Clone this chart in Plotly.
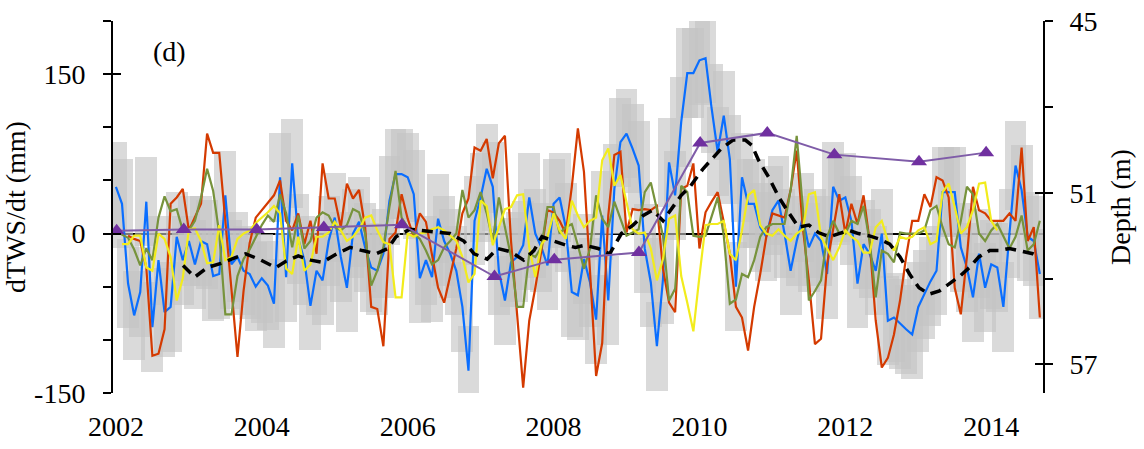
import numpy as np
import plotly.graph_objects as go

# ---------------- data ----------------
START_YEAR = 2002.0
# monthly dTWS/dt (mm) series; first month index given separately
blue_start = 0
blue = [44, 28, -47, -77, -55, 30, -88, -25, -74, -69, -3, -25, -7, -29, -7, -10, -40, -38, 36, -29, -22, -35, -38, -50, -42, -49,
        -66, 53, -41, 66, -5, -25, -68, -35, -44, -7, 15, -22, -51, 0, 11, -13, -32, -35, -19, 31, 56, 56, 53, 37, -42,
        -25, -41, 14, -7, -19, -35, -69, -129, 12, 34, 61, 44, -35, -63, -27, -22, -11, 34, 0, -13, -30, 28, 34, 6, -55,
        -58, -24, -46, -81, 17, -63, 42, 86, 94, 80, 64, -14, -46, -106, -43, 67, 36, 105, 151, 151, 163, 165, 118, 77, 111, 70,
        -50, 53, 28, 28, 6, -3, 22, 31, 0, -35, -7, 15, -13, 0, -7, -38, 44, 31, 34, 12, -47, -10, -19, -35, 0,
        -82, -79, -85, -90, -95, -69, -57, -45, -35, 39, 39, 39, -13, -32, -60, -19, -51, -29, -32, -69, 0, 64, 41, -3, -7, -38]

red_start = 2
red = [-2, -5, -7, -32, -115, -113, -90, 28, 34, 42, 3, 15, 28, 94, 76, 76, 10, -50, -116, -54, -9, 15, 22, 28,
       36, 50, 12, 3, 19, -10, 12, -19, 66, 33, 33, 6, 47, 33, 41, 6, -69, -71, -106, -5, 1, 37, 14, -3, 19,
       11, -19, -51, -65, -41, -14, 19, 33, 81, 78, 89, 52, 85, 92, -7, -79, -145, -82, -51, -16, 22, 20, 12, 0, 44,
       99, 58, -36, -134, -103, 17, 74, 77, 1, 23, 22, 23, 22, 26, -33, -65, -74, 42, 45, 66, -14, 20, 30, 39, 11,
       -19, -69, -79, -110, -69, -38, -3, 19, 17, 15, 41, 78, 6, -44, -104, -99, -29, 6, 37, 0, 28, 9, 36, -7, -82, -126,
       -117, -95, -63, -22, 12, 12, 37, 25, 53, 50, 34, -51, -76, -22, 44, 22, 19, 12, 12, 12, 19, 12, 81, -7, 6, -79]

green_start = 0
green = [4, -1, -4, -15, -30, -14, -25, 15, 35, 21, 23, 3, 3, 12, 34, 61, 40, 0, -76, -76, -40, -24, -15, -4, 8, 17,
         11, 37, 19, -13, 17, -14, -7, 15, 20, 17, 6, 3, 8, 23, 20, 0, -49, -35, -13, 25, 59, 15, 6, 0, -5,
         -16, -29, -25, -13, -7, 0, 41, 15, 22, 39, 19, -7, 34, 6, -22, -69, -69, -19, -22, -13, 25, 25, 0, 6, 9,
         -11, -33, -14, 36, 14, 6, 30, 14, -2, 1, 4, 39, 48, 23, -2, -63, -52, 45, 39, -2, -3, -2, 17, 34, -2,
         -66, -62, -38, -41, -25, -3, 6, 9, 9, 9, 41, 92, 25, -63, -54, -44, -3, 12, 0, 0, 12, 9, 26, -7, -60, -16,
         -19, -27, 1, 0, 0, 0, 3, 22, 26, 6, -10, -13, 12, 44, 37, 0, -7, 3, 9, -3, -14, -3, 17, -16, -10, 12]

yellow_start = 1
yellow = [-10, -10, -2, -2, -32, -35, 0, -5, -22, -63, -42, 4, 5, -7, -28, -27, 8, -25, -22, -5, 0, 3, 10, 15, 20,
          26, 19, -33, -38, -3, -35, -29, -3, -3, 1, 11, 3, -7, -3, 4, 15, 17, 3, -8, -10, -60, -60, 0, -3, 0,
          1, 4, 6, 3, -2, -7, -22, -46, -38, 31, 26, -11, 6, 23, 25, 36, 37, -13, -41, -10, -3, 19, 3, -5, 31,
          17, 6, 12, 15, 69, 80, 45, 55, 30, 4, 0, 1, -14, -44, -24, 14, 17, -40, -65, -92, -40, 8, 9, 9, 12, -19,
          -25, 3, 36, 41, 8, 0, -2, 4, -2, -7, 0, 4, 37, 39, -3, -14, -25, -13, 3, -3, -7, -18, -18, 6, 12,
          -7, -16, -3, -5, -3, 3, 6, -10, -7, 39, 47, 25, 0, 6, 22, 47, 48, 12, 3]

# uncertainty half-width of the grey bars (mm)
grey_unc = 42

# dashed black smoothed series
dash_year = [2002.92, 2003.08, 2003.25, 2003.44, 2003.62, 2003.78, 2003.99, 2004.19, 2004.33, 2004.50, 2004.67, 2004.83,
             2005.03, 2005.21, 2005.38, 2005.57, 2005.73, 2005.84, 2006.03, 2006.18, 2006.40, 2006.58, 2006.77, 2006.91,
             2007.09, 2007.23, 2007.41, 2007.59, 2007.73, 2007.84, 2008.00, 2008.17, 2008.30, 2008.43, 2008.61, 2008.77,
             2008.93, 2009.09, 2009.23, 2009.36, 2009.50, 2009.61, 2009.75, 2009.88, 2010.05, 2010.17, 2010.30, 2010.46,
             2010.63, 2010.72, 2010.81, 2010.95, 2011.09, 2011.23, 2011.36, 2011.50, 2011.63, 2011.78, 2011.91, 2012.05,
             2012.18, 2012.32, 2012.46, 2012.61, 2012.75, 2012.88, 2013.01, 2013.15, 2013.29, 2013.43, 2013.57, 2013.70,
             2013.83, 2013.98, 2014.11, 2014.25, 2014.38, 2014.57, 2014.63]
dash_val = [-30, -41, -32, -28, -23, -19, -25, -32, -26, -21, -25, -27,
            -19, -13, -16, -19, -14, -3, 4, 3, 1, 0, -7, -19,
            -24, -14, -17, -25, -16, -3, -7, -11, -13, -11, -14, -19,
            0, 8, 17, 22, 12, 23, 36, 45, 61, 70, 80, 88,
            88, 83, 69, 53, 34, 19, 6, 8, 1, -3, 0, 3,
            0, -2, -5, -10, -22, -38, -51, -57, -54, -47, -40, -32,
            -22, -16, -16, -14, -16, -19, -21]

# annual groundwater depth (m), right axis
depth_year = [2002.01, 2002.93, 2003.93, 2004.85, 2005.92, 2007.19, 2008.01, 2009.17, 2010.01, 2010.93, 2011.85, 2013.01, 2013.93]
depth_m = [52.33, 52.29, 52.29, 52.22, 52.12, 53.93, 53.34, 53.09, 49.26, 48.91, 49.67, 49.92, 49.60]

x_ticks = [2002, 2004, 2006, 2008, 2010, 2012, 2014]
left_ticks = [-150, 0, 150]
left_ticktext = ["-150", "0", "150"]
right_ticks = [45, 51, 57]


def months_to_years(start, n):
    return START_YEAR + (start + np.arange(n)) / 12.0


FONT = "Liberation Serif"

fig = go.Figure()

bx = months_to_years(blue_start, len(blue))
b = np.array(blue, dtype=float)
fig.add_trace(go.Bar(x=bx, y=np.full(len(b), 2 * grey_unc), base=b - grey_unc, width=0.3,
                     marker=dict(color="rgba(195,195,195,0.62)", line=dict(width=0)),
                     showlegend=False, hoverinfo="skip"))

series = [(blue, blue_start, "#0A6EFF"), (red, red_start, "#D43A00"),
          (green, green_start, "#77933C"), (yellow, yellow_start, "#F2EC1C")]
for vals, st, col in series:
    fig.add_trace(go.Scatter(x=months_to_years(st, len(vals)), y=vals, mode="lines",
                             line=dict(color=col, width=2.2), showlegend=False))

fig.add_trace(go.Scatter(x=dash_year, y=dash_val, mode="lines",
                         line=dict(color="black", width=3.5, dash="11px,7px"), showlegend=False))

fig.add_trace(go.Scatter(x=depth_year, y=depth_m, yaxis="y2", mode="lines+markers",
                         line=dict(color="#7F5CA8", width=2),
                         marker=dict(symbol="triangle-up", size=14, color="#7030A0"),
                         showlegend=False))

# invisible helpers so the inner halves of the major ticks are drawn
fig.add_trace(go.Scatter(x=[None], y=[None], yaxis="y3", showlegend=False, hoverinfo="skip"))
fig.add_trace(go.Scatter(x=[None], y=[None], yaxis="y4", showlegend=False, hoverinfo="skip"))

tickfont = dict(family=FONT, size=28, color="black")

fig.update_layout(
    width=1144, height=449,
    margin=dict(l=113, r=101, t=21, b=56, autoexpand=False),
    plot_bgcolor="white", paper_bgcolor="white",
    bargap=0, barmode="overlay",
    xaxis=dict(range=[2001.96, 2014.71], tickvals=x_ticks, ticks="", showline=False, automargin=False,
               showgrid=False, zeroline=False, tickfont=tickfont, ticklabelstandoff=14),
    yaxis=dict(range=[-150, 200], tickvals=left_ticks, ticktext=left_ticktext, ticks="outside", ticklen=8,
               tickwidth=2, tickcolor="black", showline=True, linecolor="black", linewidth=2, automargin=False,
               showgrid=False, zeroline=True, zerolinecolor="black", zerolinewidth=1.5,
               minor=dict(tickvals=[-100, -50, 50, 100, 200], ticks="outside", ticklen=8, tickwidth=2,
                          tickcolor="black"),
               tickfont=tickfont, ticklabelstandoff=12,
               title=dict(text="dTWS/dt (mm)", font=dict(family=FONT, size=28, color="black"), standoff=14)),
    yaxis2=dict(range=[58, 45], overlaying="y", side="right", anchor="x", tickvals=right_ticks,
                ticks="outside", ticklen=8, tickwidth=2, tickcolor="black", showline=True,
                linecolor="black", linewidth=2, showgrid=False, zeroline=False, automargin=False,
                minor=dict(tickvals=[48, 54], ticks="outside", ticklen=8, tickwidth=2, tickcolor="black"),
                tickfont=tickfont, ticklabelstandoff=11,
                title=dict(text="Depth (m)", font=dict(family=FONT, size=28, color="black"), standoff=14)),
    yaxis3=dict(range=[-150, 200], overlaying="y", side="left", anchor="x", tickvals=left_ticks,
                ticks="inside", ticklen=8, tickwidth=2, tickcolor="black", showticklabels=False,
                showline=False, showgrid=False, zeroline=False, automargin=False),
    yaxis4=dict(range=[58, 45], overlaying="y", side="right", anchor="x", tickvals=right_ticks,
                ticks="inside", ticklen=8, tickwidth=2, tickcolor="black", showticklabels=False,
                showline=False, showgrid=False, zeroline=False, automargin=False),
    annotations=[dict(text="(d)", xref="paper", yref="paper", x=0.041, y=0.965, xanchor="left",
                      yanchor="top", showarrow=False, font=dict(family=FONT, size=28, color="black"))],
)

fig.write_html("out.html")
